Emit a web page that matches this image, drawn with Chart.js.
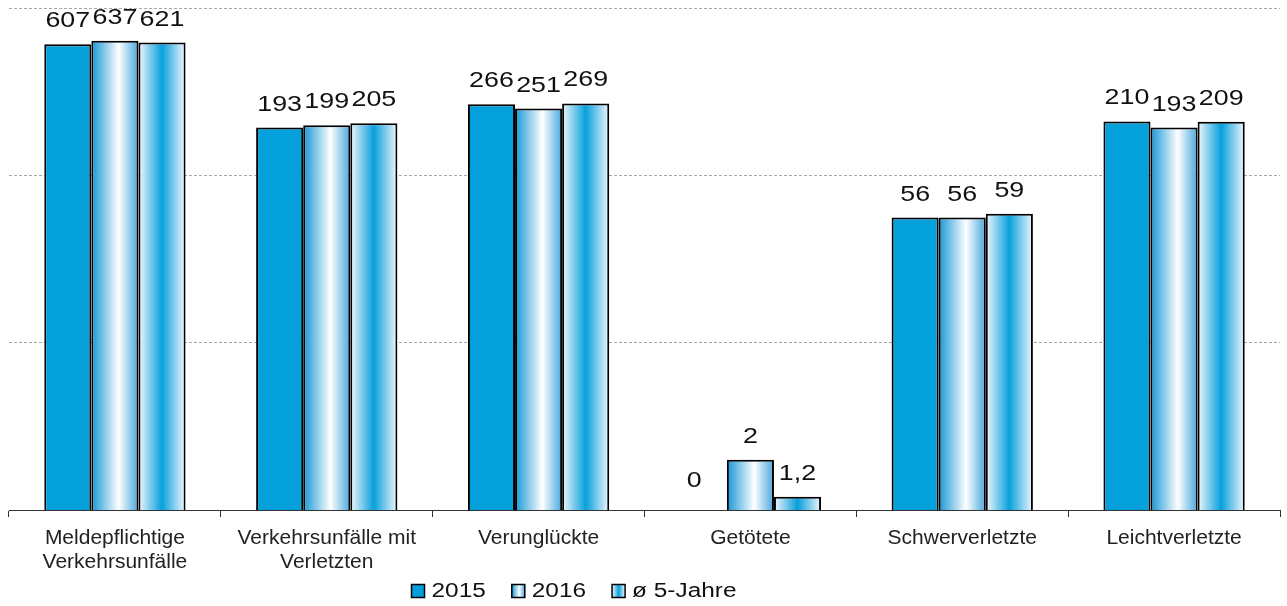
<!DOCTYPE html>
<html lang="de">
<head>
<meta charset="utf-8">
<title>Verkehrsunfälle</title>
<script src="https://cdn.jsdelivr.net/npm/chart.js@4/dist/chart.umd.min.js"></script>
<style>
  html, body { margin: 0; padding: 0; background: #fff; }
  #wrap { width: 1287px; height: 606px; position: relative; }
</style>
</head>
<body>
<div id="wrap"><canvas id="chart"></canvas></div>
<script>
  // categories and values per series
  const categories = [
    ['Meldepflichtige', 'Verkehrsunfälle'],
    ['Verkehrsunfälle mit', 'Verletzten'],
    'Verunglückte',
    'Getötete',
    'Schwerverletzte',
    'Leichtverletzte',
  ];
  const seriesNames = ['2015', '2016', 'ø 5-Jahre'];
  const values2015 = [607, 193, 266, 0, 56, 210];
  const values2016 = [637, 199, 251, 2, 56, 193];
  const valuesAvg = [621, 205, 269, 1.2, 59, 209];
  const gridTicks = [1, 10, 100, 1000];

  const BLUE = '#04a0dc';
  const FONT = '"Liberation Sans", Arial, sans-serif';

  function fmt(v) {
    return String(v).replace('.', ',');
  }

  // horizontal gradient across one bar; style 1 = blue edges, 2 = blue centre
  function gradientFor(ctx, left, width, style) {
    if (style === 0) return BLUE;
    const g = ctx.createLinearGradient(left, 0, left + width, 0);
    if (style === 1) {
      g.addColorStop(0, '#1596d6');
      g.addColorStop(0.58, '#ffffff');
      g.addColorStop(1, '#45a6de');
    } else {
      g.addColorStop(0, '#f2f7fd');
      g.addColorStop(0.5, '#08a0dc');
      g.addColorStop(1, '#f2f7fd');
    }
    return g;
  }

  // fill each bar with a gradient sized to its own drawn geometry
  const barGradients = {
    id: 'barGradients',
    beforeDatasetsDraw(chart) {
      chart.data.datasets.forEach((ds, di) => {
        chart.getDatasetMeta(di).data.forEach((el) => {
          if (!el.options || !isFinite(el.x)) return;
          const left = el.x - el.width / 2;
          el.options.backgroundColor = gradientFor(chart.ctx, left, el.width, di);
        });
      });
    },
  };

  // draws text stretched horizontally around its anchor
  function wideText(ctx, text, x, y, sx) {
    ctx.save();
    ctx.translate(x, y);
    ctx.scale(sx, 1);
    ctx.fillText(text, 0, 0);
    ctx.restore();
  }

  const valueLabels = {
    id: 'valueLabels',
    afterDatasetsDraw(chart) {
      const ctx = chart.ctx;
      const base = chart.scales.y.bottom;
      ctx.save();
      ctx.font = '22px ' + FONT;
      ctx.fillStyle = '#111';
      ctx.textAlign = 'center';
      ctx.textBaseline = 'middle';
      chart.data.datasets.forEach((ds, di) => {
        chart.getDatasetMeta(di).data.forEach((el, i) => {
          const v = ds.data[i];
          const x = v > 0 ? el.x : el.x - 9;
          const y = v > 0 ? el.y : base - 6;
          wideText(ctx, fmt(v), x, y - 23, 1.22);
        });
      });
      ctx.restore();
    },
  };

  const boxLegend = {
    id: 'boxLegend',
    afterDraw(chart) {
      const ctx = chart.ctx;
      const sx = 1.22;
      ctx.save();
      ctx.font = '20px ' + FONT;
      ctx.textBaseline = 'middle';
      ctx.textAlign = 'left';
      const box = 13, gap = 7, spacing = 26;
      const widths = seriesNames.map(n => box + gap + ctx.measureText(n).width * sx);
      const total = widths.reduce((a, b) => a + b, 0) + spacing * (seriesNames.length - 1);
      let x = 574 - total / 2;
      const cy = 591;
      seriesNames.forEach((name, i) => {
        ctx.fillStyle = gradientFor(ctx, x, box, i);
        ctx.fillRect(x, cy - box / 2, box, box);
        ctx.lineWidth = 1.5;
        ctx.strokeStyle = '#000';
        ctx.strokeRect(x, cy - box / 2, box, box);
        ctx.fillStyle = '#111';
        wideText(ctx, name, x + box + gap, cy, sx);
        x += widths[i] + spacing;
      });
      ctx.restore();
    },
  };

  const datasetStyle = {
    // scriptable so every bar keeps its own options object
    backgroundColor: () => BLUE,
    borderColor: '#000',
    borderWidth: 2,
    borderSkipped: 'bottom',
    barPercentage: 1,
    categoryPercentage: 0.667,
  };

  new Chart(document.getElementById('chart'), {
    type: 'bar',
    data: {
      labels: categories,
      datasets: [
        { label: seriesNames[0], data: values2015, ...datasetStyle },
        { label: seriesNames[1], data: values2016, ...datasetStyle },
        { label: seriesNames[2], data: valuesAvg, ...datasetStyle },
      ],
    },
    options: {
      responsive: true,
      maintainAspectRatio: false,
      animation: false,
      layout: { padding: { left: 9, right: 7, top: 8, bottom: 0 } },
      plugins: { legend: { display: false }, tooltip: { enabled: false } },
      scales: {
        x: {
          grid: { drawOnChartArea: false, drawTicks: true, tickLength: 7, color: '#333', lineWidth: 1 },
          border: { display: true, color: '#333', width: 1 },
          ticks: {
            color: '#222',
            padding: 9,
            maxRotation: 0,
            autoSkip: false,
            font: { family: FONT, size: 21, lineHeight: 1.14 },
          },
          afterFit: (s) => { s.height = 96; },
        },
        y: {
          type: 'logarithmic',
          min: 1,
          max: 1000,
          afterBuildTicks: (s) => { s.ticks = gridTicks.map(v => ({ value: v })); },
          afterFit: (s) => { s.width = 0; },
          ticks: { display: false },
          border: { display: false, dash: [3, 2] },
          grid: {
            drawTicks: false,
            color: (c) => (c.tick && c.tick.value === 1 ? 'rgba(0,0,0,0)' : '#a8a8a8'),
            lineWidth: 1,
          },
        },
      },
    },
    plugins: [barGradients, valueLabels, boxLegend],
  });
</script>
</body>
</html>
